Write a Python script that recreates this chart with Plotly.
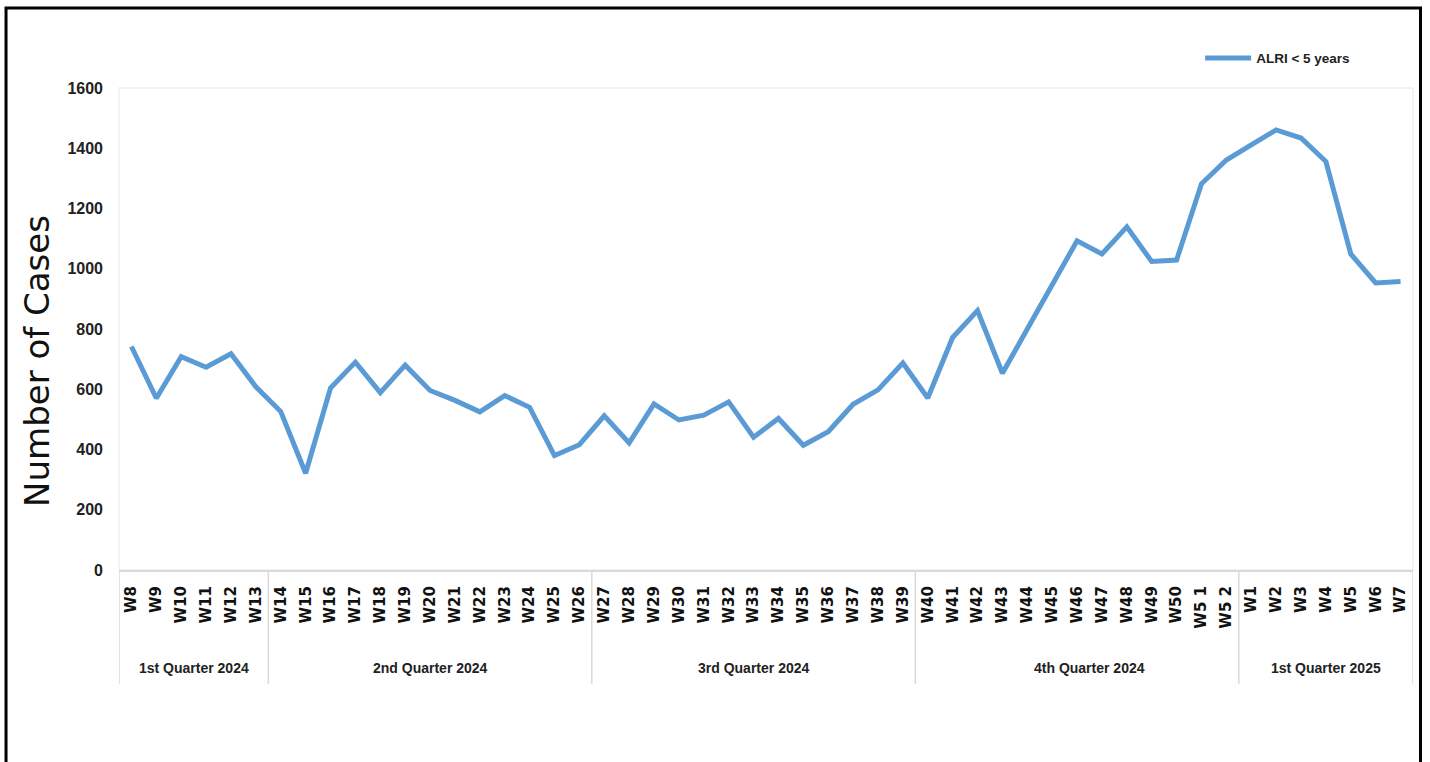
import plotly.graph_objects as go

weeks = ["W8", "W9", "W10", "W11", "W12", "W13",
         "W14", "W15", "W16", "W17", "W18", "W19", "W20", "W21", "W22", "W23", "W24", "W25", "W26",
         "W27", "W28", "W29", "W30", "W31", "W32", "W33", "W34", "W35", "W36", "W37", "W38", "W39",
         "W40", "W41", "W42", "W43", "W44", "W45", "W46", "W47", "W48", "W49", "W50", "W51", "W52",
         "W1", "W2", "W3", "W4", "W5", "W6", "W7"]
tick_text = ["W8", "W9", "W10", "W11", "W12", "W13",
             "W14", "W15", "W16", "W17", "W18", "W19", "W20", "W21", "W22", "W23", "W24", "W25", "W26",
             "W27", "W28", "W29", "W30", "W31", "W32", "W33", "W34", "W35", "W36", "W37", "W38", "W39",
             "W40", "W41", "W42", "W43", "W44", "W45", "W46", "W47", "W48", "W49", "W50", "W5 1", "W5 2",
             "W1", "W2", "W3", "W4", "W5", "W6", "W7"]
alri_under5 = [742, 570, 708, 673, 718, 608,
               526, 321, 604, 690, 589, 680, 596, 563, 525, 579, 540, 380, 416,
               512, 422, 551, 498, 514, 558, 441, 503, 414, 459, 550, 598, 687,
               571, 772, 861, 653, 800, 945, 1093, 1049, 1139, 1024, 1029, 1282, 1361,
               1411, 1461, 1434, 1356, 1049, 953, 958]
quarters = ["1st Quarter 2024", "2nd Quarter 2024", "3rd Quarter 2024", "4th Quarter 2024", "1st Quarter 2025"]
quarter_label_pos = [2.5, 12.0, 25.0, 38.5, 48.0]
quarter_bounds = [-0.5, 5.5, 18.5, 31.5, 44.5, 51.5]
y_ticks = [0, 200, 400, 600, 800, 1000, 1200, 1400, 1600]

NARROW = "Liberation Sans, Arial, sans-serif"
LINE_COLOR = "#5b9bd5"

x_idx = list(range(len(weeks)))

fig = go.Figure()
fig.add_trace(go.Scatter(
    x=x_idx, y=alri_under5, mode="lines", name="ALRI < 5 years",
    line=dict(color=LINE_COLOR, width=5),
    showlegend=True,
))

shapes = []
# plot area faint border
shapes.append(dict(type="rect", xref="paper", yref="paper", x0=0, x1=1, y0=0, y1=1,
                   line=dict(color="#efefef", width=1.5), layer="below"))
# quarter dividers
for b in quarter_bounds:
    shapes.append(dict(type="line", xref="x", yref="paper", x0=b, x1=b, y0=0, y1=-0.2365,
                       line=dict(color="#d9d9d9", width=1.5)))
# outer frame
shapes.append(dict(type="rect", xref="paper", yref="paper", x0=-0.0873, x1=1.0058, y0=-0.6, y1=1.1660,
                   line=dict(color="black", width=3)))

annotations = []
for q, p in zip(quarters, quarter_label_pos):
    annotations.append(dict(x=p, y=-0.2033, xref="x", yref="paper", text=q, showarrow=False,
                            font=dict(family=NARROW, size=14, color="#222222", weight="bold"),
                            xanchor="center", yanchor="middle"))
annotations.append(dict(x=-0.0634, y=0.4336, xref="paper", yref="paper", text="Number of Cases",
                        showarrow=False, textangle=-90,
                        font=dict(family="DejaVu Sans", size=34, color="#111111"),
                        xanchor="center", yanchor="middle"))

fig.update_layout(
    width=1430, height=762,
    margin=dict(l=119, r=17, t=88, b=192),
    paper_bgcolor="white", plot_bgcolor="white",
    shapes=shapes, annotations=annotations,
    legend=dict(x=0.8355, y=1.062, xanchor="left", yanchor="middle",
                font=dict(family=NARROW, size=13.5, color="#222222", weight="bold"),
                itemwidth=46, bgcolor="rgba(0,0,0,0)"),
    xaxis=dict(
        range=[-0.5, 51.5], tickmode="array", tickvals=x_idx, ticktext=tick_text,
        tickangle=-90, showgrid=False, zeroline=False,
        showline=True, linecolor="#d9d9d9", linewidth=2,
        ticks="", ticklabelstandoff=8,
        tickfont=dict(family="DejaVu Sans", size=15, color="#111111", weight="bold"),
    ),
    yaxis=dict(
        range=[0, 1600], tickmode="array", tickvals=y_ticks, ticktext=[str(v) for v in y_ticks],
        showgrid=False, zeroline=False, showline=False, ticks="",
        ticklabelstandoff=15,
        tickfont=dict(family=NARROW, size=16, color="#222222", weight="bold"),
    ),
)

fig.write_html("out.html")
